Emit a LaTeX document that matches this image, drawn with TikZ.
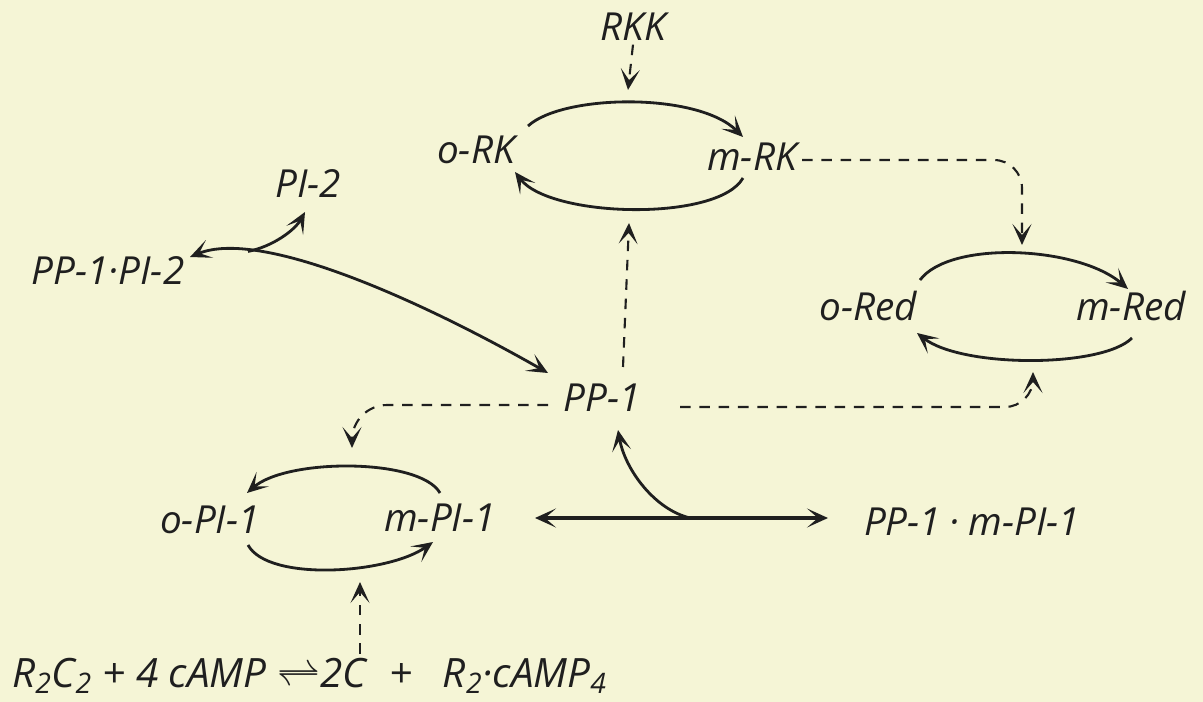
\documentclass[tikz,border=0pt]{standalone}
\usepackage{fontspec}
\setmainfont{Open Sans}
\usepackage{tikz}
\usetikzlibrary{arrows.meta, positioning, calc}
\definecolor{paper}{HTML}{F5F5D6}
\definecolor{ink}{HTML}{1F1F1F}

\begin{document}
\begin{tikzpicture}[
    x=0.02cm, y=-0.02cm,
    >={Stealth[length=4.2mm, width=3.8mm, inset=2.2mm]},
    species/.style={inner sep=2pt, text=ink, font=\fontsize{22}{26}\selectfont\itshape},
    eqpart/.style={species, font=\fontsize{23}{27}\selectfont\itshape, inner xsep=0pt, anchor=base west},
    arr/.style={->, line width=1.6pt, draw=ink},
    dbl/.style={<->, line width=1.6pt, draw=ink},
    dasharr/.style={->, line width=1.2pt, draw=ink, dash pattern=on 6pt off 5pt},
]
    \useasboundingbox (0,0) rectangle (1203,702);
    \fill[paper] (0,0) rectangle (1203,702);

    \node[species] (RKK) at (633,27) {RKK};
    \node[species] (oRK) at (476,150) {o-RK};
    \node[species] (mRK) at (752,157) {m-RK};
    \node[species] (PItwo) at (308,184) {PI-2};
    \node[species] (PPPItwo) at (108,271) {PP-1·PI-2};
    \node[species] (oRed) at (868,306) {o-Red};
    \node[species] (mRed) at (1131,306) {m-Red};
    \node[species] (PPone) at (602,398) {PP-1};
    \node[species] (oPIone) at (210,520) {o-PI-1};
    \node[species] (mPIone) at (440,518) {m-PI-1};
    \node[species] (PPmPIone) at (972,522) {PP-1\kern5pt·\kern5pt m-PI-1};

    % cAMP step
    \node[eqpart] (eqleft) at (12,687) {R\textsubscript{2}C\textsubscript{2} + 4 cAMP $\rightleftharpoons$};
    \node[eqpart] (twoC) at (eqleft.base east) {2C};
    \node[eqpart] (eqright) at (twoC.base east) {\hspace{0.55em}+\hspace{0.75em}R\textsubscript{2}·cAMP\textsubscript{4}};

    \coordinate (RKtop) at (628,90);
    \coordinate (RKbot) at (629,223);
    \coordinate (Redtop) at (1022,245);
    \coordinate (Redbot) at (1033,372);
    \coordinate (PIonetop) at (352,448);
    \coordinate (PIonebot) at (360,582);

    % interconversion cycles
    \draw[arr] ([shift={(52,-24)}]oRK.center) .. controls +(35,-32) and +(-45,-45) .. ([shift={(-9,-20)}]mRK.center);
    \draw[arr] ([shift={(-9,21)}]mRK.center) .. controls +(-25,44) and +(35,46) .. ([shift={(39,22)}]oRK.center);
    \draw[arr] ([shift={(52,-26)}]oRed.center) .. controls +(30,-40) and +(-50,-43) .. ([shift={(-3,-17)}]mRed.center);
    \draw[arr] ([shift={(1,32)}]mRed.center) .. controls +(-30,30) and +(45,35) .. ([shift={(49,27)}]oRed.center);
    \draw[arr] ([shift={(0,-25)}]mPIone.center) .. controls +(-20,-35) and +(40,-35) .. ([shift={(37,-27)}]oPIone.center);
    \draw[arr] ([shift={(38,25)}]oPIone.center) .. controls +(20,37) and +(-45,32) .. ([shift={(-7,24)}]mPIone.center);

    % effects
    \draw[dasharr] (RKK.south) -- (RKtop);
    \draw[dasharr] ([shift={(21,-31)}]PPone.center) -- (RKbot);
    \draw[dasharr, rounded corners=16pt] ([shift={(50,3)}]mRK.center) -| (Redtop);
    \draw[dasharr, rounded corners=20pt] ([shift={(-54,7)}]PPone.center) -| (PIonetop);
    \draw[dasharr, rounded corners=16pt] ([shift={(78,9)}]PPone.center) -| (Redbot);
    \draw[dasharr] (PIonebot |- twoC.north) -- (PIonebot);

    % binding
    \draw[dbl] ([shift={(82,-14)}]PPPItwo.center) .. controls +(70,-29) and +(-128,-73) .. ([shift={(-54,-25)}]PPone.center) coordinate[pos=0.22] (jPItwo);
    \draw[arr] (jPItwo) .. controls +(25,-5) and +(-10,18) .. ([shift={(-3,28)}]PItwo.center);
    \draw[dbl, line width=2pt] ([shift={(95,0)}]mPIone.center) -- ([shift={(-144,-4)}]PPmPIone.center) coordinate[pos=0.53] (jPIone);
    \draw[arr] (jPIone) .. controls +(-35,-8) and +(7,40) .. ([shift={(16,32)}]PPone.center);
\end{tikzpicture}
\end{document}
